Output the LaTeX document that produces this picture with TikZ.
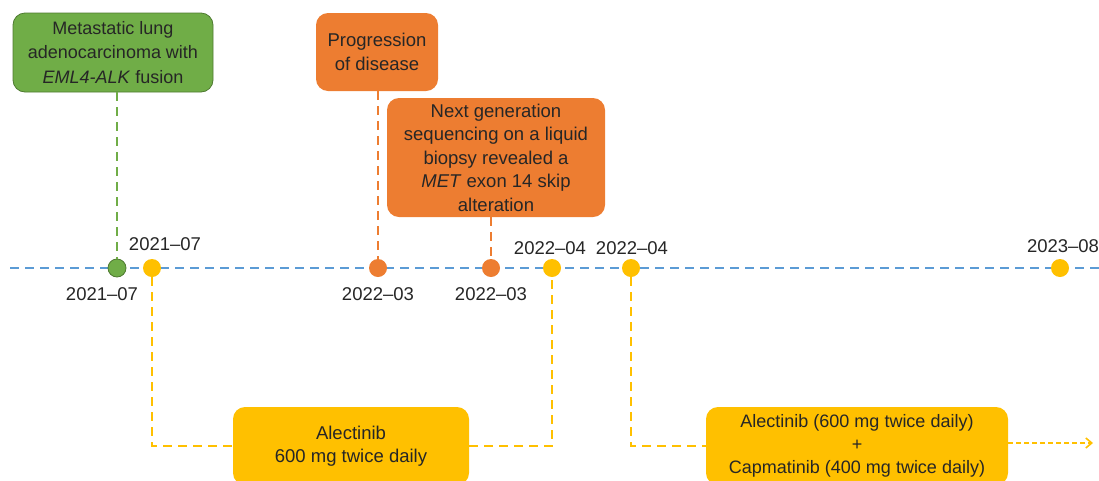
\documentclass[tikz,border=0pt]{standalone}
\usepackage{fontspec}
\setmainfont{Liberation Sans}
\usetikzlibrary{arrows.meta}
\definecolor{gfill}{HTML}{70AD47}
\definecolor{gdraw}{HTML}{4E7A30}
\definecolor{ofill}{HTML}{ED7D31}
\definecolor{yfill}{HTML}{FFC000}
\definecolor{bline}{HTML}{5B9BD5}
\definecolor{txt}{HTML}{262626}
\tikzset{
  box/.style={rounded corners=12pt, inner sep=0pt, align=center, text=txt,
    font=\fontsize{18.5}{23.5}\selectfont},
  dot/.style={circle, inner sep=0pt, minimum size=18pt},
  datelbl/.style={text=txt, font=\fontsize{18.5}{20}\selectfont, inner sep=0pt},
  dline/.style={dash pattern=on 9pt off 6pt, line width=1.6pt},
}
\begin{document}
\begin{tikzpicture}[x=1pt,y=-1pt]
\useasboundingbox (0,0) rectangle (1099,480);
% timeline
\coordinate (tl0) at (10,268);
\coordinate (tl1) at (1099,268);
\draw[bline, dline] (tl0) -- (tl1);
% boxes
\node[box, fill=gfill, draw=gdraw, line width=0.8pt, minimum width=200pt, minimum height=79pt, font=\fontsize{18}{24.5}\selectfont] (g) at (113,52.5)
  {Metastatic lung\\adenocarcinoma with\\\textit{EML4-ALK} fusion};
\node[box, fill=ofill, minimum width=122pt, minimum height=78pt] (o1) at (377,52)
  {Progression\\of disease};
\node[box, fill=ofill, minimum width=218pt, minimum height=119pt] (o2) at (496,157.5)
  {Next generation\\sequencing on a liquid\\biopsy revealed a\\\textit{MET} exon 14 skip\\alteration};
\node[box, fill=yfill, minimum width=236pt, minimum height=78pt] (a1) at (351,446)
  {Alectinib\\600 mg twice daily};
\node[box, fill=yfill, minimum width=302pt, minimum height=78pt, font=\fontsize{18}{23}\selectfont] (a2) at (857,446)
  {Alectinib (600 mg twice daily)\\+\\Capmatinib (400 mg twice daily)};
% dots
\node[dot, fill=gfill, draw=gdraw, line width=0.8pt] (cg) at (117,268) {};
\node[dot, fill=yfill] (cy1) at (152,268) {};
\node[dot, fill=ofill] (co1) at (378,268) {};
\node[dot, fill=ofill] (co2) at (491,268) {};
\node[dot, fill=yfill] (cy2) at (552,268) {};
\node[dot, fill=yfill] (cy3) at (631,268) {};
\node[dot, fill=yfill] (cy4) at (1060,268) {};
% date labels
\node[datelbl] (d1) at (165,244) {2021–07};
\node[datelbl] (d2) at (102,294) {2021–07};
\node[datelbl] (d3) at (378,294) {2022–03};
\node[datelbl] (d4) at (491,294) {2022–03};
\node[datelbl] (d5) at (550,248) {2022–04};
\node[datelbl] (d6) at (632,248) {2022–04};
\node[datelbl] (d7) at (1063,246) {2023–08};
% connectors
\draw[gfill, dline] (g.south -| cg) -- (cg.north);
\draw[ofill, dline] (o1.south -| co1) -- (co1.north);
\draw[ofill, dline] (o2.south -| co2) -- (co2.north);
\draw[yfill, dline] (cy1.south) |- (a1.west);
\draw[yfill, dline] (a1.east) -| (cy2.south);
\draw[yfill, dline] (cy3.south) |- (a2.west);
\coordinate (arrowend) at (1093,443);
\draw[yfill, line width=1.6pt, dash pattern=on 5pt off 3pt, -{Straight Barb[length=6pt,width=10pt]}] (a2.east |- arrowend) -- (arrowend);
\end{tikzpicture}
\end{document}
